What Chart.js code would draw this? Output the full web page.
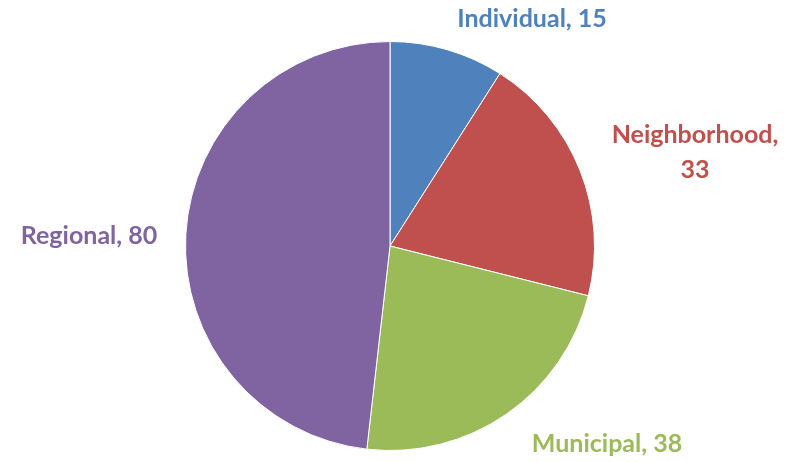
<!DOCTYPE html>
<html>
<head>
<style>
  html, body { margin: 0; padding: 0; background: #fff; }
  #wrap { width: 785px; height: 462px; position: relative; }
</style>
</head>
<body>
<div id="wrap"><canvas id="pieChart"></canvas></div>

<script src="https://cdn.jsdelivr.net/npm/chart.js"></script>
<script>
const categories = ['Individual', 'Neighborhood', 'Municipal', 'Regional'];
const values = [15, 33, 38, 80];
const sliceColors = ['#4F81BD', '#C0504D', '#9BBB59', '#8064A2'];

// where each outside label sits (centre of text block, px)
const labelSpots = [
  { x: 532, y: 19, lines: ['Individual, 15'] },
  { x: 695, y: 152, lines: ['Neighborhood,', '33'] },
  { x: 607, y: 444, lines: ['Municipal, 38'] },
  { x: 89, y: 236, lines: ['Regional, 80'] }
];

const outsideLabels = {
  id: 'outsideLabels',
  afterDatasetsDraw(chart) {
    const ctx = chart.ctx;
    ctx.save();
    ctx.font = 'bold 25px Lato, "Open Sans", sans-serif';
    ctx.textAlign = 'center';
    ctx.textBaseline = 'middle';
    labelSpots.forEach((spot, i) => {
      ctx.fillStyle = sliceColors[i];
      const lh = 35;
      const top = spot.y - (spot.lines.length - 1) * lh / 2;
      spot.lines.forEach((t, j) => ctx.fillText(t, spot.x, top + j * lh));
    });
    ctx.restore();
  }
};

new Chart(document.getElementById('pieChart'), {
  type: 'pie',
  data: {
    labels: categories,
    datasets: [{
      data: values,
      backgroundColor: sliceColors,
      borderColor: '#ffffff',
      borderWidth: 1
    }]
  },
  options: {
    responsive: true,
    maintainAspectRatio: false,
    animation: false,
    layout: { padding: { top: 41, bottom: 11, left: 0, right: 5 } },
    plugins: {
      legend: { display: false },
      tooltip: { enabled: false }
    }
  },
  plugins: [outsideLabels]
});
</script>
</body>
</html>
